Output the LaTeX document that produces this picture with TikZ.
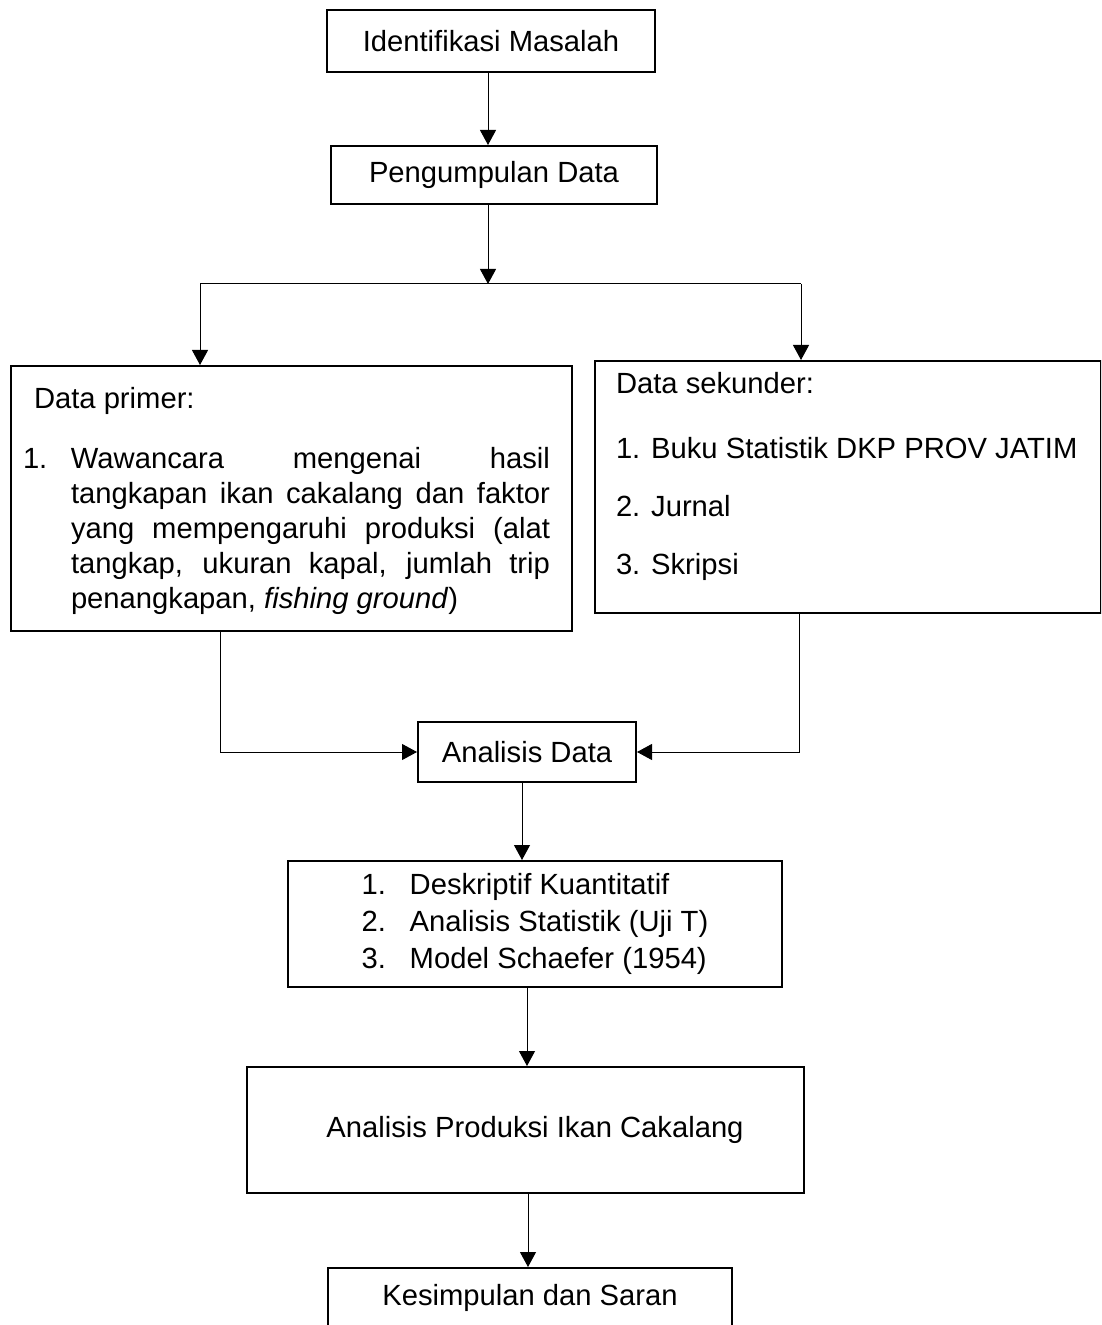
\documentclass[tikz,border=0pt]{standalone}
\usepackage{fontspec}
\setmainfont{Liberation Sans}
\usepackage{tikz}
\usetikzlibrary{
  arrows.meta,
  calc
}
\newcommand\flowfont{\fontsize{14.6pt}{17.5pt}\selectfont}
\tikzset{
  flow box/.style={draw,line width=1pt,inner sep=0pt,font=\flowfont},
  flow line/.style={line width=0.5pt},
  flow arrow/.style={line width=0.5pt,-{Triangle[length=7.5pt,width=8pt]}},
}

\begin{document}
\begin{tikzpicture}[x=0.5pt,y=-0.5pt]
\useasboundingbox (0,0) rectangle (1101,1325);
\clip (0,0) rectangle (1101,1325);
\node[flow box,minimum width=164pt,minimum height=31pt] (ident) at (491,41) {Identifikasi Masalah};
\node[flow box,minimum width=163pt,minimum height=29pt] (collect) at (494,175) {Pengumpulan Data};
\node[flow box,anchor=north west] (primer) at (10,365) {\parbox[c][132.5pt][t]{280.5pt}{%
  \vspace*{10.75pt}%
  \hspace*{11.5pt}Data primer:\par
  \vspace{12.5pt}%
  \leftskip=6pt \rightskip=11pt \hangindent=24pt \hangafter=1
  \makebox[24pt][l]{1.}Wawancara mengenai hasil\linebreak
  tangkapan ikan cakalang dan faktor\linebreak
  yang mempengaruhi produksi (alat\linebreak
  tangkap, ukuran kapal, jumlah trip\linebreak
  penangkapan, \textit{fishing ground})\par}};
\node[flow box,anchor=north west] (second) at (594,360) {\parbox[c][126pt][t]{253pt}{%
  \vspace*{5.75pt}%
  \leftskip=10.5pt
  Data sekunder:\\[15pt]
  1. Buku Statistik DKP PROV JATIM\\[11.5pt]
  2. Jurnal\\[11.5pt]
  3. Skripsi\par}};
\node[flow box,minimum width=109pt,minimum height=30pt] (anal) at (527,752) {Analisis Data};
\node[flow box,minimum width=247pt,minimum height=63pt,align=left] (methods) at (535,924)
  {\makebox[24pt][l]{1.}Deskriptif Kuantitatif\\[1pt]
   \makebox[24pt][l]{2.}Analisis Statistik (Uji T)\\[1pt]
   \makebox[24pt][l]{3.}Model Schaefer (1954)};
\node[flow box,minimum width=278.5pt,minimum height=63pt] (prod) at (525.5,1130) {\hspace*{9.5pt}Analisis Produksi Ikan Cakalang};
\node[flow box,minimum width=202pt,minimum height=30pt] (concl) at (530,1298) {Kesimpulan dan Saran};

\coordinate (split) at (488,284);
\coordinate (lsplit) at (200,284);
\coordinate (rsplit) at (801,284);
\coordinate (ljoin) at (220,752);
\coordinate (rjoin) at (799,752);
\coordinate (lane a) at (522,0);
\coordinate (lane b) at (527,0);
\coordinate (lane c) at (528,0);

\draw[flow arrow] (ident.south -| split) -- (collect.north -| split);
\draw[flow arrow] (collect.south -| split) -- (split);
\draw[flow line] (lsplit) -- (rsplit);
\draw[flow arrow] (lsplit) -- (lsplit |- primer.north);
\draw[flow arrow] (rsplit) -- (rsplit |- second.north);
\draw[flow arrow] (ljoin |- primer.south) |- (anal.west);
\draw[flow arrow] (rjoin |- second.south) |- (anal.east);
\draw[flow arrow] (anal.south -| lane a) -- (methods.north -| lane a);
\draw[flow arrow] (methods.south -| lane b) -- (prod.north -| lane b);
\draw[flow arrow] (prod.south -| lane c) -- (concl.north -| lane c);
\end{tikzpicture}
\end{document}
